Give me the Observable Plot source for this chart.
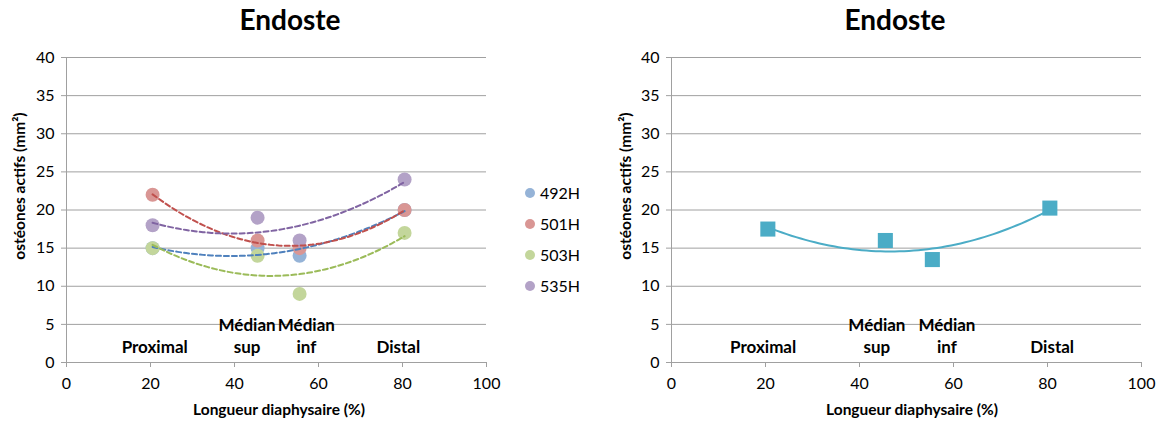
<!DOCTYPE html>
<html><head><meta charset="utf-8">
<script src="https://cdn.jsdelivr.net/npm/d3@7"></script>
<script src="https://cdn.jsdelivr.net/npm/@observablehq/plot@0.6"></script>
<style>
body{margin:0;background:#fff;font-family:Lato,"Open Sans",sans-serif;}
#wrap{position:relative;width:1162px;height:421px;overflow:hidden;}
.abs{position:absolute;white-space:nowrap;color:#000;}
.title{font-size:28px;font-weight:bold;transform:translateX(-50%);top:2px;}
.xt{font-size:15.5px;font-weight:bold;transform:translateX(-50%);top:400px;}
.yt{font-size:15.5px;font-weight:bold;transform:translate(-50%,-50%) rotate(-90deg);}
.leg{font-size:16px;display:flex;align-items:center;}
.leg span.m{display:inline-block;width:10px;height:10px;border-radius:50%;margin-right:5px;}
</style></head>
<body><div id="wrap"></div>
<script>
// ---- data ----
const xPos = [20.5, 45.5, 55.5, 80.5];
const segments = ["Proximal", "Médian\nsup", "Médian\ninf", "Distal"];
const seriesNames = ["492H", "501H", "503H", "535H"];
const s492H = [15, 15, 14, 20];
const s501H = [22, 16, 15, 20];
const s503H = [15, 14, 9, 17];
const s535H = [18, 19, 16, 24];
const meanValues = [17.5, 16, 13.5, 20.25];
const labelXLeft = [21, 43, 57.1, 79];
const labelXRight = [19.5, 43.7, 58.6, 81];
const xTicks = [0, 20, 40, 60, 80, 100];
const yTicks = [0, 5, 10, 15, 20, 25, 30, 35, 40];

const pointColors = ["#95b3d7", "#d99694", "#c3d69b", "#b3a2c7"];
const lineColors = ["#4f81bd", "#c0504d", "#9bbb59", "#8064a2"];
const meanColor = "#4bacc6";

const seriesValues = [s492H, s501H, s503H, s535H];
const points = [];
seriesNames.forEach((n, i) => xPos.forEach((x, j) => points.push({series: n, x, y: seriesValues[i][j]})));
const meanPts = xPos.map((x, j) => ({x, y: meanValues[j]}));

// quadratic least-squares trendline (like Excel poly order 2)
function polyFit(xs, ys) {
  let S = [0,0,0,0,0], T = [0,0,0];
  xs.forEach((x, k) => { for (let p = 0; p < 5; p++) S[p] += x ** p; for (let p = 0; p < 3; p++) T[p] += ys[k] * x ** p; });
  const A = [[S[0],S[1],S[2],T[0]],[S[1],S[2],S[3],T[1]],[S[2],S[3],S[4],T[2]]];
  for (let i = 0; i < 3; i++) {
    for (let r = i + 1; r < 3; r++) { const f = A[r][i] / A[i][i]; for (let c = i; c < 4; c++) A[r][c] -= f * A[i][c]; }
  }
  const c = [0,0,0];
  for (let i = 2; i >= 0; i--) { let s = A[i][3]; for (let k = i + 1; k < 3; k++) s -= A[i][k] * c[k]; c[i] = s / A[i][i]; }
  const x0 = d3.min(xs), x1 = d3.max(xs);
  return d3.range(0, 61).map(t => { const x = x0 + (x1 - x0) * t / 60; return {x, y: c[0] + c[1] * x + c[2] * x * x}; });
}
const trends = [];
seriesNames.forEach((n, i) => polyFit(xPos, seriesValues[i]).forEach(p => trends.push({series: n, ...p})));
const meanTrend = polyFit(xPos, meanValues);

const labelsLeft = segments.map((s, j) => ({x: labelXLeft[j], y: 2, t: s}));
const labelsRight = segments.map((s, j) => ({x: labelXRight[j], y: 2, t: s}));

const grid = "#a0a0a0";
const font = "Lato, 'Open Sans', sans-serif";

function baseMarks(labels) {
  return [
    Plot.ruleY(yTicks.filter(d => d > 0), {stroke: grid, strokeWidth: 1}),
    Plot.ruleY([0], {stroke: grid}),
    Plot.ruleX([0], {stroke: grid}),
    Plot.axisY({ticks: yTicks, tickSize: 5, tickPadding: 7, label: null, fontSize: 16, stroke: grid}),
    Plot.axisX({ticks: xTicks, tickSize: 5, tickPadding: 10, label: null, fontSize: 16, stroke: grid}),
    Plot.text(labels, {x: "x", y: "y", text: "t", fontSize: 17, fontWeight: "bold", lineAnchor: "bottom", lineHeight: 1.3, dy: 6, fill: "#000"})
  ];
}

const left = Plot.plot({
  width: 580, height: 421,
  marginTop: 57, marginLeft: 66, marginRight: 94, marginBottom: 59,
  style: {fontFamily: font, color: "#000", background: "transparent"},
  x: {domain: [0, 100]},
  y: {domain: [0, 40]},
  color: {domain: seriesNames, range: pointColors},
  marks: [
    ...baseMarks(labelsLeft),
    Plot.dot(points, {x: "x", y: "y", r: 7, fill: "series", stroke: "none"}),
    Plot.line(trends, {x: "x", y: "y", z: "series", stroke: d => lineColors[seriesNames.indexOf(d.series)], strokeWidth: 2, strokeDasharray: "5,3", curve: "linear"})
  ]
});

const right = Plot.plot({
  width: 582, height: 421,
  marginTop: 57, marginLeft: 91, marginRight: 21, marginBottom: 59,
  style: {fontFamily: font, color: "#000", background: "transparent"},
  x: {domain: [0, 100]},
  y: {domain: [0, 40]},
  marks: [
    ...baseMarks(labelsRight),
    Plot.line(meanTrend, {x: "x", y: "y", stroke: meanColor, strokeWidth: 2}),
    Plot.dot(meanPts, {x: "x", y: "y", symbol: "square", r: 8.5, fill: meanColor, stroke: "none"})
  ]
});

const wrap = document.getElementById("wrap");
function place(el, l, t) { el.style.position = "absolute"; el.style.left = l + "px"; el.style.top = t + "px"; wrap.appendChild(el); }
place(left, 0, 0);
place(right, 580, 0);

function div(cls, text, l, t) { const d = document.createElement("div"); d.className = "abs " + cls; d.textContent = text; d.style.left = l + "px"; if (t != null) d.style.top = t + "px"; wrap.appendChild(d); return d; }
div("title", "Endoste", 290);
div("title", "Endoste", 895);
div("xt", "Longueur diaphysaire (%)", 279);
div("xt", "Longueur diaphysaire (%)", 912);
div("yt", "ostéones actifs (mm²)", 19, 186);
div("yt", "ostéones actifs (mm²)", 625, 186);

const legTops = [193, 224, 255, 286];
seriesNames.forEach((n, i) => {
  const d = document.createElement("div");
  d.className = "abs leg";
  d.style.left = "525px"; d.style.top = (legTops[i] - 10) + "px";
  d.innerHTML = `<span class="m" style="background:${pointColors[i]}"></span>${n}`;
  wrap.appendChild(d);
});
</script></body></html>
